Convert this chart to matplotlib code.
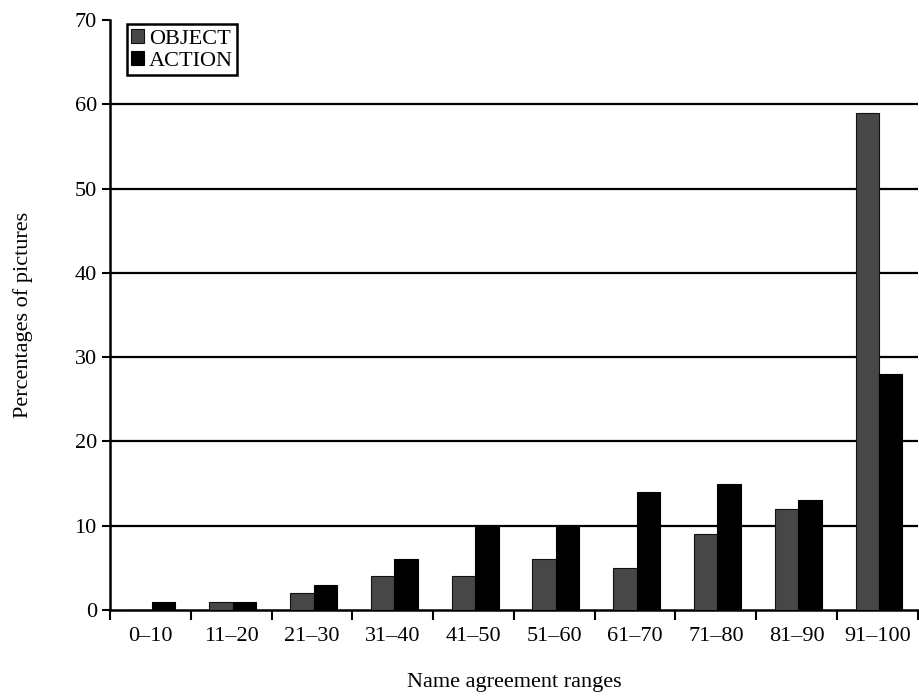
import matplotlib.pyplot as plt
import numpy as np

plt.rcParams["font.family"] = ["Liberation Serif", "DejaVu Serif"]

ranges = ["0–10", "11–20", "21–30", "31–40", "41–50",
          "51–60", "61–70", "71–80", "81–90", "91–100"]
object_pct = [0, 1, 2, 4, 4, 6, 5, 9, 12, 59]
action_pct = [1, 1, 3, 6, 10, 10, 14, 15, 13, 28]

fig = plt.figure(figsize=(9.2, 6.96), dpi=100)
ax = fig.add_axes([0.1196, 0.1236, 0.878, 0.8477])

x = np.arange(len(ranges))
w = 0.29
ax.bar(x - w / 2 + 0.02, object_pct, width=w, color="#474747", edgecolor="#111111",
       linewidth=0.8, label="OBJECT", zorder=3)
ax.bar(x + w / 2 + 0.02, action_pct, width=w, color="black", edgecolor="black",
       linewidth=0.8, label="ACTION", zorder=3)

ax.set_xlim(-0.5, len(ranges) - 0.5)
ax.set_ylim(0, 70)
ax.set_yticks(range(0, 71, 10))
ax.tick_params(axis="y", labelsize=16, direction="out", length=6, width=1.5)

# category labels in the middle, tick marks on the boundaries
ax.set_xticks(x)
ax.set_xticklabels(ranges, fontsize=16)
ax.tick_params(axis="x", which="major", length=0, pad=12)
ax.set_xticks(np.arange(-0.5, len(ranges)), minor=True)
ax.tick_params(axis="x", which="minor", direction="out", length=7, width=1.5)

for y in range(10, 70, 10):
    ax.axhline(y, color="black", linewidth=1.6, zorder=1)

ax.spines["top"].set_visible(False)
ax.spines["right"].set_visible(False)
ax.spines["left"].set_linewidth(1.8)
ax.spines["bottom"].set_linewidth(1.8)

ax.set_xlabel("Name agreement ranges", fontsize=16, labelpad=20)
ax.set_ylabel("Percentages of pictures", fontsize=16, labelpad=30)

leg = ax.legend(loc="upper left", bbox_to_anchor=(0.015, 1.0), fontsize=16,
                handlelength=0.6, handleheight=0.6, handletextpad=0.2,
                borderpad=0.2, labelspacing=0.1, fancybox=False, framealpha=1,
                borderaxespad=0.2)
leg.get_frame().set_edgecolor("black")
leg.get_frame().set_linewidth(1.8)

fig.savefig("out.png", dpi=100)
